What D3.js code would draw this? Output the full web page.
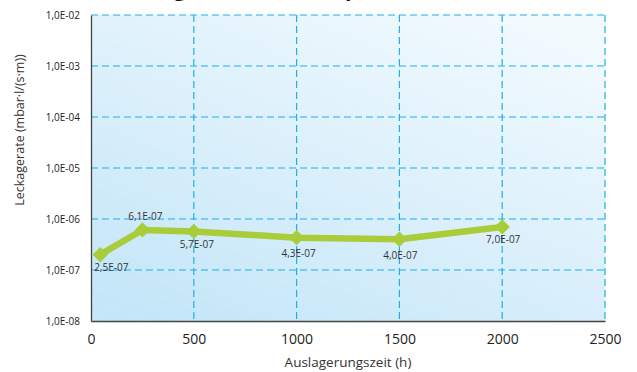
<!DOCTYPE html>
<html><head><meta charset="utf-8">
<script src="https://cdn.jsdelivr.net/npm/d3@7"></script>
<style>
html,body{margin:0;padding:0;background:#fff;}
svg{display:block;font-family:"Open Sans",sans-serif;}
</style></head>
<body>
<svg id="chart" width="637" height="372"></svg>
<script>
// ---- data ----
const titleText = "Alterung bei hoher Temperatur";
const hours = [45, 250, 500, 1000, 1500, 2000];
const leakRates = [2.0e-7, 6.1e-7, 5.7e-7, 4.3e-7, 4.0e-7, 7.0e-7];
const pointLabels = ["2,5E-07", "6,1E-07", "5,7E-07", "4,3E-07", "4,0E-07", "7,0E-07"];
const xTicks = [0, 500, 1000, 1500, 2000, 2500];
const yTicks = [1e-8, 1e-7, 1e-6, 1e-5, 1e-4, 1e-3, 1e-2];
const yTickLabels = ["1,0E-08", "1,0E-07", "1,0E-06", "1,0E-05", "1,0E-04", "1,0E-03", "1,0E-02"];
const xTitle = "Auslagerungszeit (h)";
const yTitle = "Leckagerate (mbar·l/(s·m))";

// ---- layout ----
const svg = d3.select("#chart");
const L = 91, R = 605, T = 15, B = 321;
const x = d3.scaleLinear().domain([0, 2500]).range([L, R]);
const y = d3.scaleLog().domain([1e-8, 1e-2]).range([B, T]);

const defs = svg.append("defs");
const grad = defs.append("linearGradient").attr("id", "bg")
  .attr("x1", "15%").attr("y1", "100%").attr("x2", "85%").attr("y2", "0%");
grad.append("stop").attr("offset", "0%").attr("stop-color", "#c4e6f8");
grad.append("stop").attr("offset", "50%").attr("stop-color", "#dcf0fb");
grad.append("stop").attr("offset", "100%").attr("stop-color", "#f2fafe");
const pat = defs.append("pattern").attr("id", "stripes")
  .attr("width", 14).attr("height", 14).attr("patternUnits", "userSpaceOnUse")
  .attr("patternTransform", "rotate(-70)");
pat.append("line").attr("x1", 0).attr("y1", 0).attr("x2", 0).attr("y2", 14)
  .attr("stroke", "#ffffff").attr("stroke-width", 1).attr("stroke-opacity", 0.18);

svg.append("rect").attr("x", L).attr("y", T).attr("width", R - L).attr("height", B - T)
  .attr("fill", "url(#bg)");
svg.append("rect").attr("x", L).attr("y", T).attr("width", R - L).attr("height", B - T)
  .attr("fill", "url(#stripes)");

// title (cut off at top, as in the reference: only descenders show)
const title = svg.append("text").attr("y", -4).attr("font-weight", "bold")
  .attr("font-size", 22).attr("fill", "#111").text(titleText);
{
  const gi = titleText.indexOf("g"), pi = titleText.indexOf("p");
  const n = title.node();
  const g0 = n.getStartPositionOfChar(gi).x, p0 = n.getStartPositionOfChar(pi).x;
  const fs = Math.min(24, 22 * (345 - 174) / (p0 - g0));
  title.attr("font-size", fs);
  const g1 = n.getStartPositionOfChar(gi).x;
  title.attr("x", 174 - g1);
}

// grid
const gridColor = "#1eb0ea";
svg.append("g").selectAll("line").data(yTicks.slice(1)).join("line")
  .attr("x1", L).attr("x2", R).attr("y1", d => y(d)).attr("y2", d => y(d))
  .attr("stroke", gridColor).attr("stroke-width", 1.2).attr("stroke-dasharray", "7,4");
svg.append("g").selectAll("line").data(xTicks.slice(1)).join("line")
  .attr("y1", T).attr("y2", B).attr("x1", d => x(d)).attr("x2", d => x(d))
  .attr("stroke", gridColor).attr("stroke-width", 1.2).attr("stroke-dasharray", "7,4");

// axes
const xAxis = d3.axisBottom(x).tickValues(xTicks).tickSize(0).tickPadding(13)
  .tickFormat(d3.format("d"));
const gx = svg.append("g").attr("transform", `translate(0,${B})`).call(xAxis);
gx.select(".domain").attr("stroke", "#444").attr("stroke-width", 1.3);
gx.selectAll("text").attr("font-size", 14).attr("fill", "#222")
  .attr("font-family", "'Open Sans',sans-serif");

const yAxis = d3.axisLeft(y).tickValues(yTicks).tickSize(0).tickPadding(11)
  .tickFormat((d, i) => yTickLabels[i]);
const gy = svg.append("g").attr("transform", `translate(${L},0)`).call(yAxis);
gy.select(".domain").attr("stroke", "#444").attr("stroke-width", 1.3);
gy.selectAll("text").attr("font-size", 10).attr("fill", "#222")
  .attr("font-family", "'Open Sans',sans-serif");

// axis titles
svg.append("text").attr("x", (L + R) / 2).attr("y", 367).attr("text-anchor", "middle")
  .attr("font-size", 13.5).attr("fill", "#333").text(xTitle);
svg.append("text").attr("transform", "translate(24,130) rotate(-90)")
  .attr("text-anchor", "middle").attr("font-size", 12.5).attr("fill", "#333").text(yTitle);

// line
const pts = hours.map((h, i) => ({h, v: leakRates[i], lab: pointLabels[i]}));
const lineColor = "#a9cc3b";
svg.append("path").datum(pts)
  .attr("d", d3.line().x(d => x(d.h)).y(d => y(d.v)))
  .attr("fill", "none").attr("stroke", lineColor).attr("stroke-width", 6.5)
  .attr("stroke-linejoin", "round");
svg.append("g").selectAll("path").data(pts).join("path")
  .attr("transform", d => `translate(${x(d.h)},${y(d.v)})`)
  .attr("d", d3.symbol(d3.symbolDiamond2, 150))
  .attr("fill", lineColor);

// labels
const labOff = [[11, 16], [3, -10], [3, 17], [2, 19], [1, 20], [1, 16]];
svg.append("g").selectAll("text").data(pts).join("text")
  .attr("x", (d, i) => x(d.h) + labOff[i][0])
  .attr("y", (d, i) => y(d.v) + labOff[i][1])
  .attr("text-anchor", "middle").attr("font-size", 10).attr("fill", "#333")
  .text(d => d.lab);
</script>
</body></html>
